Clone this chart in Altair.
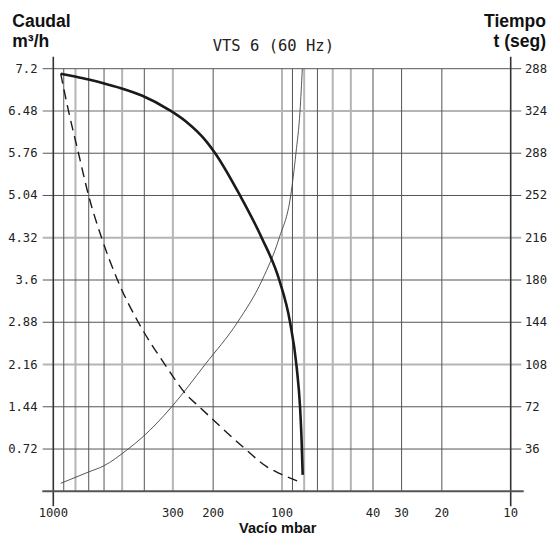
import altair as alt
import pandas as pd

# ---------------- data ----------------
x_tick_values = [1000, 300, 200, 100, 40, 30, 20, 10]
grid_dark_x = [900, 700, 600, 400, 200, 90, 70, 40, 30, 20]
grid_light_x = [800, 500, 300, 100, 80, 60, 50]

y_tick_values = [0.72, 1.44, 2.16, 2.88, 3.6, 4.32, 5.04, 5.76, 6.48, 7.2]
grid_dark_y = [0.72, 1.44, 2.88, 3.6, 5.04, 5.76, 7.2]
grid_light_y = [2.16, 4.32, 6.48]
right_labels = ["36", "72", "108", "144", "180", "216", "252", "288", "324", "288"]

# thick solid curve (Caudal, m3/h vs vacuum mbar)
caudal_x = [928, 804, 700, 604, 506, 408, 312, 263, 213, 196, 152.6, 122.7, 102.8, 92.3, 86.3, 83.4, 82.1, 81.2]
caudal_y = [7.115, 7.066, 7.015, 6.953, 6.868, 6.74, 6.50, 6.30, 5.95, 5.76, 5.04, 4.32, 3.60, 2.89, 2.12, 1.44, 0.87, 0.28]

# dashed curve
tiempo_x = [928, 858, 776, 701, 615, 524, 425, 325, 261, 230, 146.6, 116.7, 102, 81.2]
tiempo_y = [7.115, 6.48, 5.76, 5.04, 4.32, 3.60, 2.88, 2.16, 1.64, 1.44, 0.74, 0.42, 0.30, 0.14]

# thin rising curve
curva3_x = [928, 700, 604, 471, 408, 303.5, 217, 156.5, 122.1, 102.8, 91.6, 86.9, 83.4, 81.5]
curva3_y = [0.136, 0.33, 0.43, 0.72, 0.92, 1.44, 2.16, 2.88, 3.60, 4.32, 5.04, 5.76, 6.48, 7.2]

# ---------------- layout ----------------
W, H = 457.4, 422.6
MONO = "DejaVu Sans Mono"
SANS = "Liberation Sans"
TICK_SIZE = 12.2

xscale = alt.Scale(type="log", domain=[10, 1000], reverse=True)
yscale = alt.Scale(domain=[0, 7.2])


def curve_df(xs, ys):
    return pd.DataFrame({"x": xs, "y": ys, "i": list(range(len(xs)))})


X = alt.X("x:Q", scale=xscale, axis=None)
Y = alt.Y("y:Q", scale=yscale, axis=None)

# grid lines
hgrid_dark = alt.Chart(pd.DataFrame({"y": grid_dark_y})).mark_rule(
    color="#555555", strokeWidth=1
).encode(y=Y, x=alt.value(-10.6), x2=alt.value(W + 10.6))
hgrid_light = alt.Chart(pd.DataFrame({"y": grid_light_y})).mark_rule(
    color="#b5b5b5", strokeWidth=2
).encode(y=Y, x=alt.value(-10.6), x2=alt.value(W + 10.6))

vgrid_dark = alt.Chart(pd.DataFrame({"x": grid_dark_x})).mark_rule(
    color="#555555", strokeWidth=1
).encode(x=X, y=alt.value(0), y2=alt.value(H))
vgrid_light = alt.Chart(pd.DataFrame({"x": grid_light_x})).mark_rule(
    color="#b5b5b5", strokeWidth=2
).encode(x=X, y=alt.value(0), y2=alt.value(H))

# axis lines
vaxes = alt.Chart(pd.DataFrame({"x": [1000, 10]})).mark_rule(
    color="#333333", strokeWidth=1.6
).encode(x=X, y=alt.value(-12), y2=alt.value(H + 15))
haxis = alt.Chart(pd.DataFrame({"y": [0]})).mark_rule(
    color="#555555", strokeWidth=2
).encode(y=Y, x=alt.value(-11), x2=alt.value(W + 13))

# curves
caudal = alt.Chart(curve_df(caudal_x, caudal_y)).mark_line(
    color="#1a1a1a", strokeWidth=2.6, interpolate="monotone"
).encode(x=X, y=Y, order="i:Q")
tiempo = alt.Chart(curve_df(tiempo_x, tiempo_y)).mark_line(
    color="#1a1a1a", strokeWidth=1.4, strokeDash=[10, 6], interpolate="monotone"
).encode(x=X, y=Y, order="i:Q")
curva3 = alt.Chart(curve_df(curva3_x, curva3_y)).mark_line(
    color="#444444", strokeWidth=0.9, interpolate="monotone"
).encode(x=X, y=Y, order="i:Q")

# tick labels
left_lab = alt.Chart(pd.DataFrame({"y": y_tick_values, "t": [f"{v:g}" for v in y_tick_values]})).mark_text(
    font=MONO, fontSize=TICK_SIZE, align="right", baseline="middle", color="#222222"
).encode(y=Y, x=alt.value(-15.8), text="t:N")

right_lab = alt.Chart(pd.DataFrame({"y": y_tick_values, "t": right_labels})).mark_text(
    font=MONO, fontSize=TICK_SIZE, align="left", baseline="middle", color="#222222"
).encode(y=Y, x=alt.value(W + 14.3), text="t:N")

bottom_lab = alt.Chart(pd.DataFrame({"x": x_tick_values, "t": [str(v) for v in x_tick_values]})).mark_text(
    font=MONO, fontSize=TICK_SIZE, align="center", baseline="middle", color="#222222"
).encode(x=X, y=alt.value(H + 22), text="t:N")


def label(txt, x, y, align, font=SANS, size=17.5, weight="bold", color="#111111"):
    return alt.Chart(pd.DataFrame({"t": [txt]})).mark_text(
        font=font, fontWeight=weight, fontSize=size, align=align,
        baseline="alphabetic", color=color
    ).encode(text="t:N", x=alt.value(x), y=alt.value(y))


t_caudal = label("Caudal", -41, -41.5, "left")
t_unit = label("m³/h", -41, -21.5, "left")
t_tiempo = label("Tiempo", 492.7, -41.5, "right")
t_seg = label("t (seg)", 492.7, -21.5, "right")
t_main = label("VTS 6 (60 Hz)", 220, -18, "center", font=MONO, size=15.5, weight="normal", color="#222222")
t_x = label("Vacío mbar", 224.5, H + 41.5, "center", size=14.5)

chart = alt.layer(
    hgrid_light, vgrid_light, hgrid_dark, vgrid_dark, vaxes, haxis,
    curva3, tiempo, caudal,
    left_lab, right_lab, bottom_lab,
    t_caudal, t_unit, t_tiempo, t_seg, t_main, t_x,
).properties(
    width=W, height=H,
    autosize=alt.AutoSizeParams(type="none"),
    padding={"left": 45.3, "top": 60.7, "right": 36.3, "bottom": 44.7},
    background="white",
).configure_view(stroke=None)

chart.save("out.html", embed_options={"renderer": "svg", "actions": False})
